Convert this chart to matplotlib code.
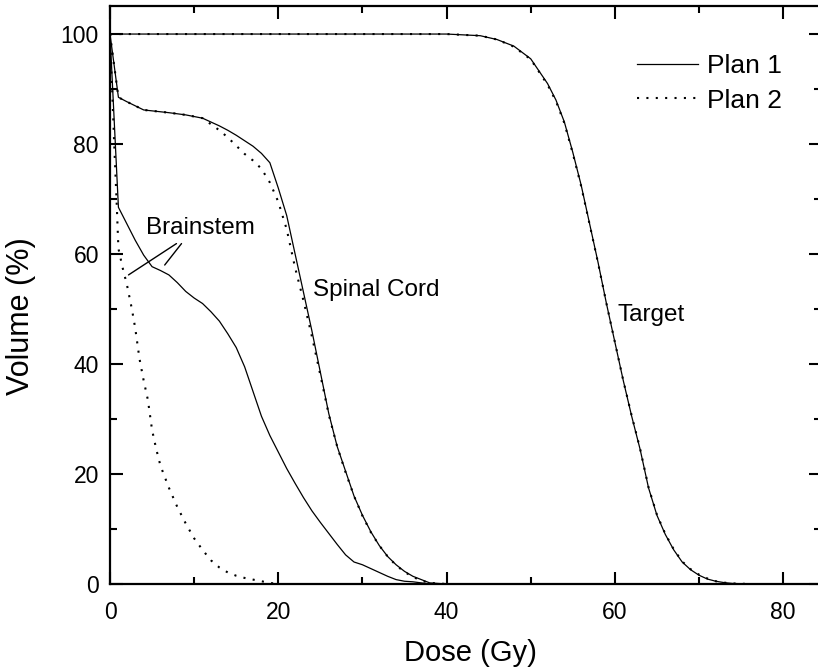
import matplotlib
matplotlib.use("Agg")
import matplotlib.pyplot as plt
from matplotlib.ticker import MultipleLocator

plt.rcParams['font.family'] = ['Liberation Sans', 'DejaVu Sans']

# Target DVH
target_dose = [0, 40, 44, 46, 48, 50, 52, 53, 54, 55, 56, 57, 58, 59, 60, 61, 62, 63,
               64, 65, 66, 67, 68, 69, 70, 71, 72, 73, 74, 76]
target_p1 = [100, 100, 99.7, 99.0, 97.8, 95.5, 91, 88, 84, 78.5, 72.5, 65.5, 58.5, 51, 44, 37,
             30.5, 24.5, 17.5, 12.5, 9.0, 6.2, 4.0, 2.6, 1.6, 0.9, 0.5, 0.25, 0.1, 0]
target_p2 = [100, 100, 99.7, 99.0, 97.7, 95.4, 90.8, 87.8, 83.8, 78.3, 72.3, 65.4, 58.4, 51, 44, 37,
             30.6, 24.6, 17.6, 12.6, 9.1, 6.3, 4.1, 2.7, 1.7, 1.0, 0.5, 0.25, 0.1, 0]

# Spinal cord DVH
cord_dose = [0, 1, 2, 4, 7, 9, 11, 12, 13, 14, 15, 16, 17, 18, 19, 20, 21, 22, 23, 24, 25,
             26, 27, 28, 29, 30, 31, 32, 33, 34, 35, 36, 37, 38, 40]
cord_p1 = [100, 88.5, 87.7, 86.2, 85.7, 85.3, 84.7, 84.0, 83.3, 82.5, 81.6, 80.6, 79.6, 78.3, 76.6,
           72, 67, 60, 53, 46, 38.5, 31, 25, 20.5, 16, 12.5, 9.5, 7.0, 5.0, 3.5, 2.3, 1.4, 0.8, 0.2, 0]
cord_p2 = [100, 88.5, 87.7, 86.2, 85.7, 85.3, 84.7, 83.6, 82.5, 81.2, 79.7, 78.2, 77.0, 75.5, 73,
           69.5, 64.5, 57.5, 51.5, 45, 38, 30.8, 25, 20.3, 16, 12.4, 9.4, 7.0, 5.0, 3.4, 2.2, 1.3, 0.6, 0.2, 0]

# Brainstem DVH
stem1_dose = [0, 1, 2, 3, 4, 5, 6, 7, 8, 9, 10, 11, 12, 13, 14, 15, 16, 17, 18, 19, 20,
              21, 22, 23, 24, 25, 26, 27, 28, 29, 30, 31, 32, 33, 34, 35, 36, 38]
stem1_vol = [100, 68.5, 65.5, 62.5, 59.8, 57.7, 57.0, 56.2, 54.8, 53.2, 52.0, 51.0, 49.5, 47.8,
             45.5, 43.0, 39.5, 35.0, 30.5, 27.0, 24.0, 21.0, 18.3, 15.7, 13.3, 11.2, 9.2, 7.2,
             5.3, 4.0, 3.5, 2.8, 2.1, 1.4, 0.8, 0.5, 0.4, 0]
stem2_dose = [0, 0.5, 0.8, 1, 1.5, 2, 2.6, 3, 3.5, 4, 4.5, 5, 5.5, 6, 7, 8, 9, 10, 11, 12,
              13, 14, 15, 16, 17, 18, 19, 20]
stem2_vol = [100, 80, 69, 61, 57.5, 54.5, 50, 46.5, 41, 37, 33.5, 28, 24.5, 21.5, 17.5, 14, 11,
             8.3, 6.2, 4.3, 3.0, 2.1, 1.5, 1.1, 0.8, 0.5, 0.2, 0]

W, H = 818, 670
fig = plt.figure(figsize=(W / 100, H / 100), dpi=100)
ax = fig.add_axes([110 / W, 1 - 584 / H, 711 / W, 578 / H])

solid = dict(color='black', lw=0.9, ls='-')
dotted = dict(color='black', lw=1.5, ls=(0, (1.0, 3.5)))

ax.plot(target_dose, target_p1, label='Plan 1', **solid)
ax.plot(cord_dose, cord_p1, **solid)
ax.plot(stem1_dose, stem1_vol, **solid)
ax.plot(target_dose, target_p2, label='Plan 2', **dotted)
ax.plot(cord_dose, cord_p2, **dotted)
ax.plot(stem2_dose, stem2_vol, **dotted)

ax.set_xlim(0, 84.5)
ax.set_ylim(0, 105.1)
ax.xaxis.set_major_locator(MultipleLocator(20))
ax.xaxis.set_minor_locator(MultipleLocator(10))
ax.yaxis.set_major_locator(MultipleLocator(20))
ax.yaxis.set_minor_locator(MultipleLocator(10))
ax.tick_params(which='both', direction='in', top=True, right=True, width=1.5, labelsize=16.5)
ax.tick_params(which='major', length=9)
ax.tick_params(which='minor', length=5)
ax.tick_params(axis='x', which='major', pad=12)
ax.tick_params(axis='y', which='major', pad=8)
for s in ax.spines.values():
    s.set_linewidth(1.6)

ax.set_xlabel('Dose (Gy)', fontsize=21)
ax.set_ylabel('Volume (%)', fontsize=22)
ax.xaxis.set_label_coords((470 - 110) / 711, -(639 - 584) / 578)
ax.yaxis.set_label_coords(-(110 - 36) / 711, (584 - 316) / 578)

# curve labels
ax.text(10.8, 64.7, 'Brainstem', fontsize=17.5, ha='center', va='center')
ax.annotate('', xy=(2.2, 56.2), xytext=(7.9, 61.9),
            arrowprops=dict(arrowstyle='-', lw=1.0, color='black', shrinkA=0, shrinkB=0))
ax.annotate('', xy=(6.5, 58.0), xytext=(8.5, 61.9),
            arrowprops=dict(arrowstyle='-', lw=1.0, color='black', shrinkA=0, shrinkB=0))
ax.text(24.1, 53.5, 'Spinal Cord', fontsize=17.5, ha='left', va='center')
ax.text(60.3, 48.9, 'Target', fontsize=17.5, ha='left', va='center')

ax.legend(loc='upper left', bbox_to_anchor=(637 / W, 1 - 54 / H), bbox_transform=fig.transFigure,
          frameon=False, fontsize=19, handlelength=2.3, handletextpad=0.35, labelspacing=0.4,
          borderpad=0, borderaxespad=0)

fig.savefig('out.png', dpi=100)
